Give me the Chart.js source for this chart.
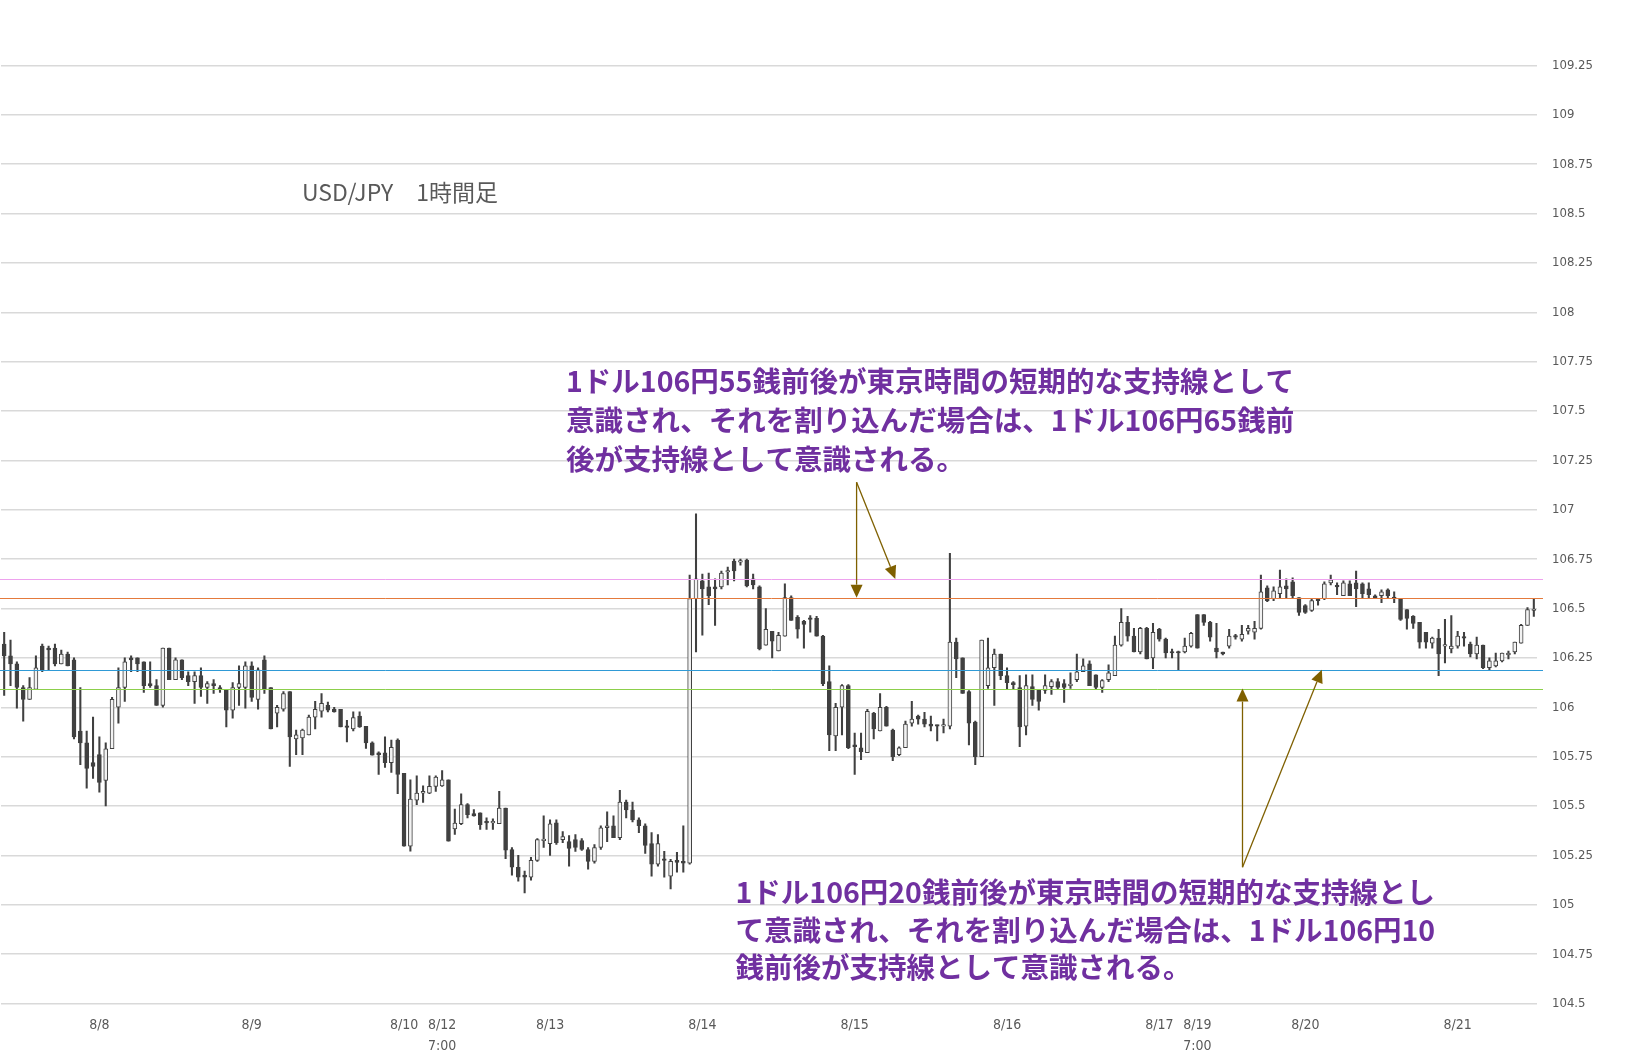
<!DOCTYPE html>
<html>
<head>
<meta charset="utf-8">
<title>USD/JPY 1時間足</title>
<script src="https://cdn.jsdelivr.net/npm/chart.js@4.4.0/dist/chart.umd.min.js"></script>
<style>
    html, body { margin: 0; padding: 0; background: #fff; }
    #wrap { width: 1652px; height: 1060px; }
</style>
</head>
<body>
<div id="wrap"><canvas id="myChart" width="1652" height="1060"></canvas></div>
<script>
//USD/JPY hourly candles, 8/7 night to 8/21 noon
const opens = [
    106.32, 106.26, 106.22, 106.10, 106.04, 106.09, 106.31, 106.30, 106.30, 106.22,
    106.27, 106.24, 105.88, 105.82, 105.72, 105.76, 105.63, 105.79, 106.00, 106.10,
    106.25, 106.25, 106.23, 106.12, 106.11, 106.01, 106.30, 106.14, 106.24, 106.16,
    106.13, 106.16, 106.10, 106.12, 106.10, 106.09, 105.985, 106.10, 106.10, 106.21,
    106.04, 106.24, 106.10, 105.97, 105.99, 106.08, 105.84, 105.845, 105.86, 105.95,
    105.98, 106.01, 105.99, 105.99, 105.905, 105.89, 105.955, 105.904, 105.82, 105.77,
    105.77, 105.72, 105.834, 105.666, 105.297, 105.53, 105.565, 105.565, 105.599, 105.602,
    105.633, 105.384, 105.411, 105.507, 105.462, 105.465, 105.423, 105.414, 105.411, 105.49,
    105.28, 105.19, 105.15, 105.14, 105.225, 105.325, 105.31, 105.415, 105.33, 105.32,
    105.33, 105.325, 105.28, 105.22, 105.29, 105.39, 105.40, 105.34, 105.52, 105.48,
    105.43, 105.40, 105.31, 105.205, 105.23, 105.145, 105.225, 105.22, 105.21, 106.55,
    106.64, 106.61, 106.61, 106.61, 106.685, 106.74, 106.735, 106.745, 106.65, 106.61,
    106.315, 106.385, 106.285, 106.36, 106.555, 106.455, 106.435, 106.45, 106.45, 106.36,
    106.13, 105.855, 106.00, 106.11, 105.81, 105.795, 105.77, 105.97, 105.88, 106.00,
    105.885, 105.76, 105.795, 105.92, 105.955, 105.94, 105.915, 105.91, 105.905, 105.905,
    106.33, 106.25, 106.08, 105.925, 105.75, 106.11, 106.20, 106.27, 106.16, 106.125,
    106.10, 105.905, 106.105, 106.09, 106.085, 106.105, 106.13, 106.12, 106.11, 106.14,
    106.18, 106.22, 106.165, 106.10, 106.14, 106.16, 106.315, 106.43, 106.36, 106.28,
    106.40, 106.25, 106.395, 106.345, 106.28, 106.28, 106.28, 106.31, 106.47, 106.47,
    106.43, 106.30, 106.28, 106.31, 106.36, 106.345, 106.385, 106.38, 106.40, 106.605,
    106.55, 106.575, 106.615, 106.635, 106.555, 106.515, 106.49, 106.545, 106.55, 106.63,
    106.615, 106.565, 106.625, 106.63, 106.625, 106.60, 106.565, 106.565, 106.595, 106.555,
    106.55, 106.495, 106.46, 106.43, 106.38, 106.325, 106.35, 106.31, 106.295, 106.31,
    106.355, 106.32, 106.27, 106.315, 106.20, 106.21, 106.235, 106.265, 106.28, 106.325,
    106.415, 106.49
];
const highs = [
    106.38, 106.34, 106.23, 106.11, 106.15, 106.26, 106.32, 106.31, 106.32, 106.29,
    106.28, 106.25, 106.10, 105.88, 105.95, 105.85, 105.82, 106.05, 106.20, 106.25,
    106.26, 106.25, 106.23, 106.23, 106.14, 106.30, 106.30, 106.25, 106.24, 106.18,
    106.18, 106.20, 106.13, 106.14, 106.11, 106.09, 106.125, 106.21, 106.23, 106.23,
    106.20, 106.26, 106.10, 106.01, 106.08, 106.08, 105.885, 105.89, 105.96, 106.03,
    106.07, 106.027, 106.00, 105.99, 105.934, 105.977, 105.977, 105.904, 105.825, 105.775,
    105.85, 105.834, 105.84, 105.666, 105.633, 105.653, 105.602, 105.653, 105.653, 105.68,
    105.633, 105.485, 105.562, 105.512, 105.482, 105.465, 105.44, 105.435, 105.574, 105.49,
    105.29, 105.25, 105.17, 105.24, 105.335, 105.45, 105.43, 105.43, 105.37, 105.35,
    105.355, 105.335, 105.29, 105.305, 105.40, 105.47, 105.45, 105.58, 105.53, 105.52,
    105.44, 105.41, 105.365, 105.355, 105.27, 105.23, 105.265, 105.40, 106.67, 106.98,
    106.675, 106.68, 106.65, 106.69, 106.71, 106.75, 106.75, 106.75, 106.675, 106.615,
    106.50, 106.385, 106.38, 106.625, 106.565, 106.465, 106.44, 106.465, 106.46, 106.365,
    106.21, 106.02, 106.115, 106.115, 105.87, 105.87, 105.99, 105.975, 106.07, 106.005,
    105.89, 105.80, 105.93, 106.03, 105.96, 105.975, 105.955, 105.91, 105.94, 106.78,
    106.35, 106.25, 106.085, 105.93, 106.34, 106.35, 106.295, 106.27, 106.20, 106.13,
    106.16, 106.165, 106.165, 106.09, 106.165, 106.14, 106.145, 106.14, 106.175, 106.27,
    106.245, 106.235, 106.165, 106.14, 106.215, 106.36, 106.50, 106.46, 106.40, 106.405,
    106.405, 106.425, 106.40, 106.35, 106.295, 106.285, 106.35, 106.38, 106.47, 106.47,
    106.435, 106.425, 106.28, 106.395, 106.37, 106.415, 106.415, 106.435, 106.67, 106.615,
    106.61, 106.695, 106.65, 106.655, 106.555, 106.52, 106.55, 106.55, 106.635, 106.67,
    106.63, 106.64, 106.64, 106.69, 106.63, 106.63, 106.57, 106.595, 106.60, 106.585,
    106.55, 106.495, 106.465, 106.43, 106.38, 106.355, 106.395, 106.445, 106.465, 106.385,
    106.38, 106.33, 106.355, 106.315, 106.25, 106.275, 106.275, 106.285, 106.33, 106.42,
    106.505, 106.55
];
const lows = [
    106.06, 106.11, 105.995, 105.93, 106.04, 106.09, 106.18, 106.19, 106.21, 106.22,
    106.21, 105.84, 105.71, 105.59, 105.64, 105.57, 105.50, 105.79, 105.92, 106.03,
    106.18, 106.18, 106.075, 106.10, 106.01, 106.00, 106.14, 106.14, 106.14, 106.11,
    106.02, 106.055, 106.02, 106.07, 106.075, 105.90, 105.945, 106.01, 105.995, 106.03,
    105.99, 106.07, 105.89, 105.90, 105.98, 105.70, 105.76, 105.76, 105.86, 105.89,
    105.95, 105.977, 105.975, 105.90, 105.825, 105.88, 105.898, 105.792, 105.758, 105.66,
    105.696, 105.67, 105.562, 105.297, 105.272, 105.507, 105.518, 105.562, 105.574, 105.599,
    105.322, 105.356, 105.406, 105.44, 105.448, 105.381, 105.381, 105.381, 105.411, 105.233,
    105.15, 105.12, 105.06, 105.125, 105.22, 105.29, 105.25, 105.305, 105.315, 105.195,
    105.27, 105.275, 105.18, 105.21, 105.28, 105.32, 105.34, 105.33, 105.44, 105.42,
    105.365, 105.26, 105.145, 105.195, 105.14, 105.08, 105.165, 105.165, 105.205, 106.28,
    106.365, 106.52, 106.415, 106.60, 106.62, 106.64, 106.72, 106.61, 106.60, 106.29,
    106.315, 106.25, 106.285, 106.36, 106.44, 106.35, 106.30, 106.38, 106.36, 106.11,
    105.78, 105.78, 105.86, 105.79, 105.66, 105.735, 105.77, 105.84, 105.88, 105.905,
    105.73, 105.755, 105.795, 105.905, 105.915, 105.90, 105.88, 105.83, 105.87, 105.89,
    106.15, 106.07, 105.81, 105.71, 105.75, 106.095, 106.01, 106.14, 106.09, 106.09,
    105.80, 105.86, 106.01, 105.985, 106.07, 106.065, 106.09, 106.025, 106.095, 106.13,
    106.18, 106.11, 106.09, 106.075, 106.13, 106.16, 106.31, 106.335, 106.28, 106.27,
    106.245, 106.195, 106.335, 106.25, 106.25, 106.19, 106.275, 106.305, 106.30, 106.415,
    106.335, 106.25, 106.265, 106.30, 106.345, 106.335, 106.37, 106.345, 106.395, 106.535,
    106.54, 106.55, 106.555, 106.55, 106.465, 106.475, 106.485, 106.517, 106.545, 106.62,
    106.57, 106.565, 106.565, 106.51, 106.55, 106.55, 106.55, 106.53, 106.55, 106.53,
    106.44, 106.395, 106.40, 106.30, 106.30, 106.30, 106.16, 106.225, 106.275, 106.30,
    106.31, 106.255, 106.245, 106.195, 106.19, 106.205, 106.23, 106.245, 106.27, 106.325,
    106.415, 106.46
];
const closes = [
    106.26, 106.22, 106.10, 106.04, 106.10, 106.20, 106.19, 106.29, 106.22, 106.27,
    106.21, 105.85, 105.82, 105.69, 105.70, 105.62, 105.79, 106.04, 106.10, 106.23,
    106.24, 106.22, 106.11, 106.11, 106.01, 106.30, 106.14, 106.24, 106.15, 106.13,
    106.16, 106.10, 106.12, 106.11, 106.09, 105.985, 106.10, 106.12, 106.21, 106.05,
    106.19, 106.09, 105.89, 106.00, 106.07, 105.85, 105.86, 105.885, 105.95, 105.99,
    106.02, 105.985, 105.977, 105.90, 105.898, 105.948, 105.90, 105.82, 105.758, 105.76,
    105.72, 105.797, 105.66, 105.297, 105.535, 105.565, 105.574, 105.60, 105.646, 105.633,
    105.322, 105.414, 105.507, 105.456, 105.45, 105.406, 105.414, 105.423, 105.49, 105.277,
    105.19, 105.14, 105.14, 105.225, 105.33, 105.33, 105.41, 105.315, 105.345, 105.285,
    105.29, 105.28, 105.22, 105.29, 105.39, 105.40, 105.34, 105.52, 105.48, 105.43,
    105.40, 105.30, 105.205, 105.31, 105.225, 105.22, 105.215, 105.21, 106.55, 106.65,
    106.60, 106.565, 106.60, 106.68, 106.69, 106.69, 106.74, 106.615, 106.62, 106.295,
    106.395, 106.335, 106.365, 106.555, 106.44, 106.395, 106.42, 106.445, 106.36, 106.12,
    105.86, 106.00, 106.11, 105.795, 105.80, 105.775, 105.98, 105.89, 106.00, 105.905,
    105.75, 105.795, 105.915, 105.94, 105.94, 105.915, 105.905, 105.905, 105.91, 106.33,
    106.245, 106.07, 105.92, 105.75, 106.34, 106.20, 106.27, 106.16, 106.125, 106.115,
    105.90, 106.11, 106.04, 106.03, 106.11, 106.13, 106.10, 106.10, 106.115, 106.18,
    106.21, 106.11, 106.10, 106.135, 106.175, 106.315, 106.43, 106.36, 106.28, 106.40,
    106.245, 106.38, 106.345, 106.275, 106.275, 106.275, 106.31, 106.375, 106.30, 106.43,
    106.355, 106.28, 106.27, 106.36, 106.355, 106.37, 106.40, 106.40, 106.585, 106.54,
    106.59, 106.61, 106.60, 106.565, 106.48, 106.48, 106.54, 106.54, 106.625, 106.645,
    106.61, 106.63, 106.565, 106.60, 106.575, 106.57, 106.555, 106.585, 106.565, 106.55,
    106.445, 106.45, 106.425, 106.33, 106.33, 106.35, 106.27, 106.315, 106.31, 106.36,
    106.35, 106.27, 106.315, 106.20, 106.235, 106.235, 106.275, 106.275, 106.33, 106.415,
    106.495, 106.49
];

// x axis: only these candles get a date label
const dateLabels = ['8/8', '8/9', '8/10', ['8/12', '7:00'], '8/13', '8/14', '8/15', '8/16',
    '8/17', ['8/19', '7:00'], '8/20', '8/21'];
const dateLabelIndex = [15, 39, 63, 69, 86, 110, 134, 158, 182, 188, 205, 229];

// support lines (pink 65, orange 55, blue 20, green 10)
const levelValues = [106.65, 106.555, 106.19, 106.095];
const levelColors = ['#eea2ee', '#e47a3c', '#2f9ad6', '#8ccf4b'];

// arrows, [candle index, price]
const arrowFrom = [[134.3, 107.14], [134.3, 107.14], [195.1, 105.19], [195.1, 105.19]];
const arrowTo = [[134.3, 106.555], [140.4, 106.65], [195.1, 106.095], [207.6, 106.19]];

const note1 = ['1ドル106円55銭前後が東京時間の短期的な支持線として',
    '意識され、それを割り込んだ場合は、1ドル106円65銭前',
    '後が支持線として意識される。'];
const note2 = ['1ドル106円20銭前後が東京時間の短期的な支持線とし',
    'て意識され、それを割り込んだ場合は、1ドル106円10',
    '銭前後が支持線として意識される。'];
const chartTitle = 'USD/JPY\u30001時間足';

const candleDark = '#404040';
const candleLight = '#f2f2f2';

function drawArrow(ctx, x1, y1, x2, y2) {
    let ang = Math.atan2(y2 - y1, x2 - x1);
    let len = 13, half = 6;
    let bx = x2 - Math.cos(ang) * len;
    let by = y2 - Math.sin(ang) * len;
    ctx.beginPath();
    ctx.moveTo(x1, y1);
    ctx.lineTo(bx, by);
    ctx.stroke();
    ctx.beginPath();
    ctx.moveTo(x2, y2);
    ctx.lineTo(bx - Math.sin(ang) * half, by + Math.cos(ang) * half);
    ctx.lineTo(bx + Math.sin(ang) * half, by - Math.cos(ang) * half);
    ctx.closePath();
    ctx.fill();
}

// levels, arrows and the notes on top of the candles
const overlayPlugin = {
    id: 'overlay',
    afterDatasetsDraw(chart) {
        let ctx = chart.ctx;
        let xs = chart.scales.x;
        let ys = chart.scales.y;
        let area = chart.chartArea;
        ctx.save();

        levelValues.forEach((v, i) => {
            let y = Math.round(ys.getPixelForValue(v)) + 0.5;
            ctx.strokeStyle = levelColors[i];
            ctx.lineWidth = 1;
            ctx.beginPath();
            ctx.moveTo(area.left - 1, y);
            ctx.lineTo(area.right + 6, y);
            ctx.stroke();
        });

        ctx.strokeStyle = '#7f6000';
        ctx.fillStyle = '#7f6000';
        ctx.lineWidth = 1.3;
        arrowFrom.forEach((p, i) => {
            let q = arrowTo[i];
            drawArrow(ctx, xs.getPixelForValue(p[0]), ys.getPixelForValue(p[1]),
                xs.getPixelForValue(q[0]), ys.getPixelForValue(q[1]));
        });

        ctx.textBaseline = 'middle';
        ctx.textAlign = 'left';
        ctx.fillStyle = '#595959';
        ctx.font = '23px "Noto Sans CJK JP", "Noto Sans", sans-serif';
        ctx.fillText(chartTitle, 302, 192);

        ctx.fillStyle = '#7030a0';
        ctx.font = 'bold 28.5px "Noto Sans CJK JP", sans-serif';
        note1.forEach((line, i) => ctx.fillText(line, 566, 381.5 + i * 39));
        note2.forEach((line, i) => ctx.fillText(line, 735.5, 892.5 + i * 37.5));

        ctx.restore();
    }
};

const config = {
    type: 'bar',
    data: {
        labels: opens.map((o, i) => i),
        datasets: [{
            label: 'body',
            data: opens.map((o, i) => [o, closes[i]]),
            backgroundColor: opens.map((o, i) => closes[i] >= o ? candleLight : candleDark),
            borderColor: candleDark,
            borderWidth: 1,
            borderSkipped: false,
            barThickness: 4,
            minBarLength: 1.5,
            grouped: false,
            order: 1
        }, {
            label: 'wick',
            data: lows.map((l, i) => [l, highs[i]]),
            backgroundColor: candleDark,
            barThickness: 1.4,
            grouped: false,
            order: 2
        }]
    },
    options: {
        responsive: false,
        devicePixelRatio: 1,
        animation: false,
        layout: { padding: { top: 65.5, left: 1, right: 0, bottom: 0 } },
        plugins: {
            legend: { display: false },
            tooltip: { enabled: false }
        },
        scales: {
            x: {
                offset: true,
                grid: { display: false, drawTicks: false },
                border: { display: false },
                ticks: {
                    autoSkip: false,
                    maxRotation: 0,
                    minRotation: 0,
                    padding: 12,
                    color: '#595959',
                    font: { family: '"DejaVu Sans Condensed", "DejaVu Sans", sans-serif', size: 14, lineHeight: 1.45 },
                    callback: function (value, index) {
                        let k = dateLabelIndex.indexOf(index);
                        return k >= 0 ? dateLabels[k] : '';
                    }
                },
                afterFit: function (scale) {
                    scale.height = 56.5;
                    // tick padding should not push the plot in from the left
                    scale.paddingLeft = 0;
                    scale.paddingRight = 0;
                }
            },
            y: {
                position: 'right',
                min: 104.5,
                max: 109.25,
                grid: { color: '#d9d9d9', lineWidth: 1.5, drawTicks: false },
                border: { display: false },
                ticks: {
                    stepSize: 0.25,
                    padding: 15,
                    color: '#595959',
                    font: { family: '"DejaVu Sans Condensed", "DejaVu Sans", sans-serif', size: 13 },
                    callback: function (value) { return String(Number(value.toFixed(2))); }
                },
                afterFit: function (scale) { scale.width = 115; }
            }
        }
    },
    plugins: [overlayPlugin]
};

var myChart = new Chart(document.getElementById('myChart'), config);
</script>
</body>
</html>
